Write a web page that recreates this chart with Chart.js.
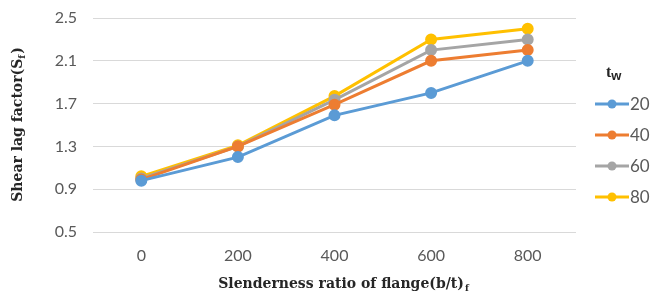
<!DOCTYPE html>
<html>
<head>
<meta charset="utf-8">
<script src="https://cdn.jsdelivr.net/npm/chart.js@4/dist/chart.umd.min.js"></script>
<style>
  html, body { margin: 0; padding: 0; background: #ffffff; }
  #wrap { width: 652px; height: 299px; position: relative; }
</style>
</head>
<body>
<div id="wrap"><canvas id="c" width="652" height="299"></canvas></div>
<script>
const categories = ['0', '200', '400', '600', '800'];
const seriesNames = ['20', '40', '60', '80'];
const tw20 = [0.98, 1.20, 1.59, 1.80, 2.10];
const tw40 = [0.99, 1.30, 1.69, 2.10, 2.20];
const tw60 = [1.00, 1.30, 1.735, 2.20, 2.30];
const tw80 = [1.02, 1.31, 1.77, 2.30, 2.40];
const seriesColors = ['#5B9BD5', '#ED7D31', '#A5A5A5', '#FFC000'];
const yTitle = 'Shear lag factor(S';
const yTitleSub = 'f';
const xTitle = 'Slenderness ratio of flange(b/t)';
const xTitleSub = 'f';
const legendTitle = 't';
const legendTitleSub = 'w';

const values = [tw20, tw40, tw60, tw80];
const datasets = values.map((v, i) => ({
  label: seriesNames[i],
  data: v,
  borderColor: seriesColors[i],
  backgroundColor: seriesColors[i],
  pointBackgroundColor: seriesColors[i],
  pointBorderColor: seriesColors[i],
  borderWidth: 3,
  pointRadius: 4.5,
  pointHoverRadius: 4.5,
  tension: 0
}));

const titleFont = 'bold 14px "DejaVu Serif", "Liberation Serif", serif';
const subFont = 'bold 9px "DejaVu Serif", "Liberation Serif", serif';

const decor = {
  id: 'decor',
  afterDraw(chart) {
    const ctx = chart.ctx;
    const ca = chart.chartArea;
    ctx.save();
    ctx.fillStyle = '#262626';
    ctx.textBaseline = 'middle';
    // X title
    ctx.font = titleFont;
    const w1 = ctx.measureText(xTitle).width;
    ctx.font = subFont;
    const w2 = ctx.measureText(xTitleSub).width;
    const cx = 343;
    const cy = 284;
    let sx = cx - (w1 + w2) / 2;
    ctx.textAlign = 'left';
    ctx.font = titleFont;
    ctx.fillText(xTitle, sx, cy);
    ctx.font = subFont;
    ctx.fillText(xTitleSub, sx + w1 + 1, cy + 5);
    // Y title
    ctx.save();
    ctx.translate(18, (ca.top + ca.bottom) / 2);
    ctx.rotate(-Math.PI / 2);
    ctx.font = titleFont;
    const a1 = ctx.measureText(yTitle).width;
    ctx.font = subFont;
    const a2 = ctx.measureText(yTitleSub).width;
    ctx.font = titleFont;
    const a3 = ctx.measureText(')').width;
    let ax = -(a1 + a2 + a3) / 2;
    ctx.fillText(yTitle, ax, 0);
    ctx.font = subFont;
    ctx.fillText(yTitleSub, ax + a1, 5);
    ctx.font = titleFont;
    ctx.fillText(')', ax + a1 + a2 + 1, 0);
    ctx.restore();
    // Legend
    ctx.font = 'bold 16px "Liberation Serif", serif';
    ctx.fillStyle = '#262626';
    ctx.fillText(legendTitle, 606, 73);
    const tW = ctx.measureText(legendTitle).width;
    ctx.font = 'bold 13px "Liberation Sans", sans-serif';
    ctx.fillText(legendTitleSub, 606 + tW, 76);
    const ys = [104, 135, 166, 197];
    chart.data.datasets.forEach((ds, i) => {
      const y = ys[i];
      ctx.strokeStyle = ds.borderColor;
      ctx.lineWidth = 3;
      ctx.beginPath();
      ctx.moveTo(595, y);
      ctx.lineTo(629, y);
      ctx.stroke();
      ctx.fillStyle = ds.borderColor;
      ctx.beginPath();
      ctx.arc(612, y, 4.5, 0, Math.PI * 2);
      ctx.fill();
      ctx.fillStyle = '#595959';
      ctx.font = '17px Lato, "Open Sans", sans-serif';
      ctx.textAlign = 'left';
      ctx.fillText(ds.label, 630, y + 1);
    });
    ctx.restore();
  }
};

new Chart(document.getElementById('c'), {
  type: 'line',
  data: { labels: categories, datasets: datasets },
  options: {
    responsive: false,
    animation: false,
    devicePixelRatio: 1,
    layout: { padding: { top: 18, right: 76, bottom: 0, left: 0 } },
    plugins: { legend: { display: false }, tooltip: { enabled: false }, title: { display: false } },
    scales: {
      x: {
        offset: true,
        grid: { display: false, drawTicks: false },
        border: { display: false },
        ticks: { color: '#595959', font: { family: 'Lato', size: 16 }, padding: 14 },
        afterFit(s) { s.height = 67; s.paddingLeft = 0; s.paddingRight = 0; }
      },
      y: {
        min: 0.5, max: 2.5,
        grid: { color: '#D9D9D9', lineWidth: 1, drawTicks: false },
        border: { display: false },
        ticks: { stepSize: 0.4, color: '#595959', font: { family: 'Lato', size: 16 }, padding: 16,
          callback: (v) => Number(v).toFixed(1) },
        afterFit(s) { s.width = 93; s.paddingTop = 0; s.paddingBottom = 0; }
      }
    }
  },
  plugins: [decor]
});
</script>
</body>
</html>
